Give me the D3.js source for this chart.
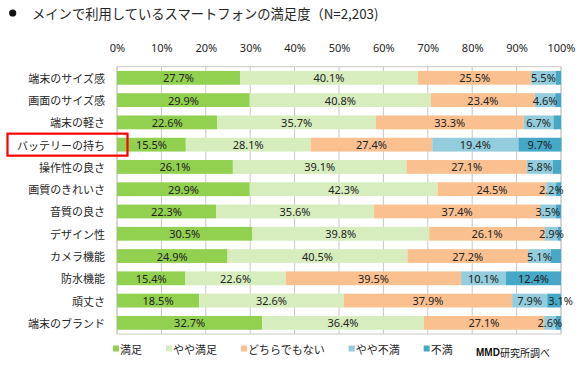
<!DOCTYPE html>
<html><head><meta charset="utf-8">
<script src="https://cdn.jsdelivr.net/npm/d3@7"></script>
<style>
html,body{margin:0;padding:0;background:#fff;}
svg{display:block;font-family:"Noto Sans","Noto Sans CJK JP",sans-serif;}
</style></head>
<body>
<svg id="chart" width="585" height="366"></svg>
<script>
const title = "メインで利用しているスマートフォンの満足度（N=2,203)";
const categories = ["端末のサイズ感","画面のサイズ感","端末の軽さ","バッテリーの持ち","操作性の良さ","画質のきれいさ","音質の良さ","デザイン性","カメラ機能","防水機能","頑丈さ","端末のブランド"];
const seriesNames = ["満足","やや満足","どちらでもない","やや不満","不満"];
const satisfied      = [27.7,29.9,22.6,15.5,26.1,29.9,22.3,30.5,24.9,15.4,18.5,32.7];
const ratherSatisfied= [40.1,40.8,35.7,28.1,39.1,42.3,35.6,39.8,40.5,22.6,32.6,36.4];
const neutral        = [25.5,23.4,33.3,27.4,27.1,24.5,37.4,26.1,27.2,39.5,37.9,27.1];
const ratherUnsat    = [5.5,4.6,6.7,19.4,5.8,2.2,3.5,2.9,5.1,10.1,7.9,2.6];
const unsatisfied    = [1.2,1.3,1.7,9.7,1.9,1.1,1.2,0.7,2.3,12.4,3.1,1.2];
const tickValues = [0,10,20,30,40,50,60,70,80,90,100];
const highlighted = "バッテリーの持ち";
const source = "研究所調べ";
const sourceBold = "MMD";

const colors = ["#92D050","#D7EDBE","#FAC090","#93CDDD","#44A8C6"];
const seriesData = [satisfied, ratherSatisfied, neutral, ratherUnsat, unsatisfied];

const svg = d3.select("#chart");
const plotL = 117, plotR = 561, plotT = 66.7, plotB = 334;
const x = d3.scaleLinear().domain([0,100]).range([plotL,plotR]);
const y = d3.scaleBand().domain(categories).range([plotT,plotB]).paddingInner(0.38).paddingOuter(0.19);
const textColor = "#262626";

// title
svg.append("circle").attr("cx",12.7).attr("cy",13).attr("r",3.6).attr("fill","#111");
svg.append("text").attr("x",32).attr("y",13).attr("dominant-baseline","central")
  .attr("font-size",13.3).attr("fill",textColor).attr("font-family","'Noto Sans CJK JP','Noto Sans',sans-serif").text(title);

// grid + border
svg.append("g").selectAll("line").data(tickValues).join("line")
  .attr("x1",d=>x(d)).attr("x2",d=>x(d)).attr("y1",plotT).attr("y2",plotB)
  .attr("stroke","#c8c8c8").attr("stroke-width",1);
svg.append("rect").attr("x",plotL).attr("y",plotT).attr("width",plotR-plotL).attr("height",plotB-plotT)
  .attr("fill","none").attr("stroke","#c8c8c8");

// top axis
const axis = d3.axisTop(x).tickValues(tickValues).tickFormat(d=>d+"%").tickSize(0).tickPadding(0);
const ag = svg.append("g").attr("transform","translate(0,52)").call(axis);
ag.select(".domain").remove();
ag.selectAll("text").attr("font-size",11).attr("fill",textColor).attr("font-family","'Noto Sans',sans-serif");

// stacked data
const rows = categories.map((c,i)=>{
  let acc=0;
  return seriesData.map((s,k)=>{const v=s[i]; const seg={cat:c,k,v,x0:acc,x1:acc+v}; acc+=v; return seg;});
});
const segs = rows.flat();
svg.append("g").selectAll("rect").data(segs).join("rect")
  .attr("x",d=>x(d.x0)).attr("width",d=>x(d.x1)-x(d.x0))
  .attr("y",d=>y(d.cat)).attr("height",y.bandwidth())
  .attr("fill",d=>colors[d.k]);

// data labels
const narrowLast = d => d.k===4 && (x(d.x1)-x(d.x0)) < 20;
svg.append("g").selectAll("text").data(segs.filter(d=>d.k<4 || d.v>=3)).join("text")
  .attr("x",d=>narrowLast(d) ? x(d.x0)+1 : x((d.x0+d.x1)/2))
  .attr("y",d=>y(d.cat)+y.bandwidth()/2)
  .attr("text-anchor",d=>narrowLast(d) ? "start" : "middle").attr("dominant-baseline","central")
  .attr("font-size",11).attr("fill","#222").attr("font-family","'Noto Sans',sans-serif")
  .text(d=>d.v.toFixed(1)+"%");

// category labels
svg.append("g").selectAll("text").data(categories).join("text")
  .attr("x",105).attr("y",d=>y(d)+y.bandwidth()/2)
  .attr("text-anchor","end").attr("dominant-baseline","central")
  .attr("font-size",11).attr("fill",textColor).attr("font-family","'Noto Sans CJK JP',sans-serif")
  .text(d=>d);

// highlight box
const hy = y(highlighted)+y.bandwidth()/2;
svg.append("rect").attr("x",7.5).attr("y",hy-11).attr("width",120).attr("height",22)
  .attr("fill","none").attr("stroke","#FF0000").attr("stroke-width",2.2);

// legend
const lg = svg.append("g");
let lx = 113;
const ly = 348.5;
seriesNames.forEach((n,k)=>{
  lg.append("rect").attr("x",lx).attr("y",ly-3).attr("width",6).attr("height",6).attr("fill",colors[k]);
  const t = lg.append("text").attr("x",lx+7).attr("y",ly).attr("dominant-baseline","central")
    .attr("font-size",11).attr("fill",textColor).attr("font-family","'Noto Sans CJK JP',sans-serif").text(n);
  lx += 7 + t.node().getComputedTextLength() + 24;
});

// source
const st = svg.append("text").attr("x",476).attr("y",352).attr("dominant-baseline","central")
  .attr("font-size",10).attr("fill","#111").attr("font-family","'Noto Sans CJK JP',sans-serif");
st.append("tspan").attr("font-weight","bold").attr("font-family","'Liberation Sans','Noto Sans',sans-serif").text(sourceBold);
st.append("tspan").text(source);
</script>
</body></html>
